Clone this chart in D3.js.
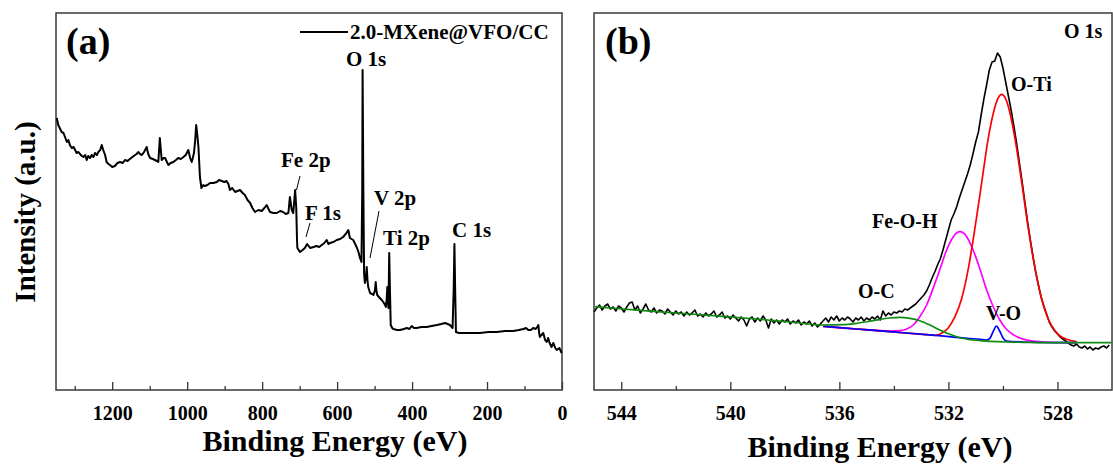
<!DOCTYPE html>
<html><head><meta charset="utf-8">
<script src="https://cdn.jsdelivr.net/npm/d3@7"></script>
<style>
body{margin:0;background:#fff}
text{font-family:"Liberation Serif","Times New Roman",serif;font-weight:bold;fill:#000}
</style>
</head><body>
<svg id="chart" width="1113" height="466"></svg>
<script>
// ---------- DATA ----------
// (a) XPS survey spectrum: [binding energy (eV), intensity (a.u.)]
const survey = [[1348,272],[1344,265],[1340,262],[1335,258],[1330,257],[1326,253],[1321,248],[1317,250],[1313,245],[1308,242],[1303,243],[1299,240],[1295,237],[1290,238],[1286,236],[1281,234],[1277,233],[1272,235],[1268,230],[1264,234],[1259,232],[1255,235],[1250,233],[1246,237],[1241,235],[1237,238],[1232,240],[1228,245],[1224,240],[1219,235],[1215,228],[1210,226],[1206,225],[1200,223],[1193,224],[1186,227],[1179,228],[1172,227],[1166,230],[1159,229],[1153,231],[1146,233],[1139,235],[1135,236],[1130,238],[1126,236],[1121,235],[1115,238],[1108,243],[1104,236],[1099,232],[1092,231],[1086,230],[1081,229],[1077,228],[1073,252],[1068,230],[1063,232],[1059,232],[1054,228],[1050,225],[1044,227],[1037,228],[1030,230],[1024,232],[1017,231],[1010,233],[1004,235],[997,240],[992,232],[988,228],[985,232],[982,237],[979,248],[976,265],[973,255],[970,243],[966,213],[962,202],[957,205],[953,204],[946,205],[939,207],[930,207],[921,208],[915,210],[908,209],[901,208],[895,209],[890,206],[886,200],[880,202],[872,198],[866,199],[859,200],[852,197],[846,195],[839,190],[832,187],[826,182],[819,178],[810,180],[801,179],[794,182],[788,185],[783,181],[779,178],[770,177],[761,177],[752,179],[744,178],[737,176],[730,177],[726,193],[721,180],[717,177],[712,200],[709,182],[707,150],[706,142],[699,138],[692,140],[686,142],[680,146],[672,142],[663,143],[655,144],[648,143],[641,145],[634,147],[628,150],[623,146],[619,147],[610,148],[601,150],[592,151],[584,153],[577,156],[570,160],[566,152],[557,150],[548,143],[543,138],[539,132],[535,128],[533,200],[532,320],[530,200],[528,117],[526,107],[523,112],[521,123],[519,110],[517,103],[512,97],[507,96],[503,95],[499,100],[497,108],[495,99],[493,95],[486,92],[481,90],[477,88],[472,85],[470,83],[468,90],[466,103],[465,90],[463,82],[461,137],[459,100],[457,65],[453,62],[450,61],[440,60],[432,60],[422,61],[414,62],[407,61],[401,64],[395,62],[388,62],[375,63],[361,63],[348,64],[334,65],[322,66],[312,67],[305,66],[299,65],[292,62],[289,100],[287,146],[285,100],[283,58],[275,57],[265,57],[254,57],[236,57],[219,57],[196,58],[174,58],[152,59],[130,59],[115,60],[103,61],[96,62],[90,60],[83,60],[77,62],[70,61],[66,63],[63,65],[61,57],[59,53],[55,55],[50,57],[45,50],[41,48],[37,52],[33,47],[28,43],[23,47],[18,42],[14,40],[7,42],[1,37]];
const surveyTicks = [1200, 1000, 800, 600, 400, 200, 0];
const surveyMinorTicks = [1300, 1100, 900, 700, 500, 300, 100];
const surveyPeaks = [
  {label: "O 1s", x: 346, y: 66},
  {label: "Fe 2p", x: 281, y: 167},
  {label: "F 1s", x: 305, y: 220},
  {label: "V 2p", x: 374, y: 205},
  {label: "Ti 2p", x: 383, y: 245},
  {label: "C 1s", x: 452, y: 237}
];
const legendLabel = "2.0-MXene@VFO/CC";

// (b) O 1s high-resolution: raw spectrum from 545.0 eV downward in 0.1 eV steps
const o1sStart = 545.0, o1sStep = 0.1;
const o1sRaw = [
  78,82,85,80,84,86,81,83,79,84,
  82,78,83,87,88,80,84,77,81,86,
  80,78,82,77,80,79,76,81,78,75,
  79,76,78,74,78,75,77,80,74,76,
  73,77,74,76,79,73,75,78,72,74,
  71,75,72,69,73,70,64,71,73,68,
  72,69,74,70,62,71,67,70,66,70,
  68,71,66,69,67,70,65,68,66,69,
  64,67,63,66,69,72,68,73,70,74,
  69,72,70,73,71,68,72,70,73,69,
  72,70,73,71,74,70,79,74,77,75,
  78,77,79,78,81,80,82,84,86,89,
  92,95,99,105,112,118,125,131,140,150,
  160,170,176,183,192,200,208,216,225,236,
  248,258,275,291,305,320,328,329,337,333,
  322,308,294,280,264,247,228,209,189,169,
  151,134,118,105,93,84,76,68,63,59,
  56,53,51,49,47,45,44,46,43,42,
  44,41,43,40,42,41,43,44,42,45
];
// fitted components (background included): [eV, intensity]
const fitOC = [[544.96,83.3],[543.93,81],[542.70,78.3],[541.48,76],[540.26,73.7],[539.04,71],[537.81,68],[536.59,65],[535.86,65.3],[535.37,66.7],[534.76,69.3],[534.15,72],[533.78,72.7],[533.41,71.7],[533.05,69.3],[532.68,65],[532.32,60],[531.95,55.7],[531.58,52.3],[531.09,50],[530.48,48.7],[529.87,48],[529.26,47.7],[528.04,47.3],[526.02,47.3]];
const fitVO = [[536.59,63.7],[535.37,61],[534.15,58.3],[532.93,55.7],[531.71,52.7],[530.85,50.7],[530.61,50],[530.48,51.7],[530.36,58.3],[530.24,64],[530.12,59],[529.99,51.7],[529.87,49],[529.26,48],[528.04,47.3],[527.3,47.3]];
const fitFeOH = [[536.59,63.7],[535.37,61],[534.15,59],[533.78,59.3],[533.53,61],[533.29,65],[533.05,73.3],[532.80,85],[532.56,101.7],[532.31,120.7],[532.07,139.7],[531.82,153.3],[531.58,158.3],[531.33,153.3],[531.09,139.7],[530.84,120.7],[530.60,100.3],[530.35,83],[530.11,69.7],[529.87,60.7],[529.62,55.3],[529.38,52],[529.01,49.3],[528.52,48],[527.3,47.3]];
const fitOTi = [[536.59,63.7],[535.37,61],[534.15,58.3],[532.93,55.7],[532.49,54.7],[532.25,56.7],[532.0,62.3],[531.76,73.3],[531.51,91.7],[531.27,121.3],[531.03,161.3],[530.78,207.3],[530.54,251.7],[530.29,283.3],[530.17,292.3],[530.05,295.7],[529.92,292.3],[529.80,283.3],[529.56,251.7],[529.31,207.3],[529.07,161.3],[528.82,121.3],[528.58,90.7],[528.34,71],[528.09,59.3],[527.85,53],[527.60,50.3],[527.3,48.3]];
const o1sTicks = [544, 540, 536, 532, 528];
const o1sMinorTicks = [542, 538, 534, 530];
const o1sLabels = [
  {label: "O 1s", x: 1064, y: 38},
  {label: "O-Ti", x: 1011, y: 91},
  {label: "Fe-O-H", x: 872, y: 228},
  {label: "O-C", x: 858, y: 298},
  {label: "V-O", x: 986, y: 320}
];

// ---------- DRAWING ----------
const svg = d3.select("#chart");
const plotTop = 13, plotBottom = 390;

function panel(xDomain, xRange, ticks, minor, tag, tagX, titleX, titleY) {
  const x = d3.scaleLinear().domain(xDomain).range(xRange);
  const y = d3.scaleLinear().domain([0, 377]).range([plotBottom, plotTop]);
  const g = svg.append("g");
  g.append("g").attr("transform", `translate(0,${plotBottom})`)
    .call(d3.axisBottom(x).tickValues(minor).tickSize(-4).tickFormat(""))
    .call(a => a.select(".domain").remove())
    .call(a => a.selectAll("line").attr("stroke", "#333").attr("stroke-width", 1.3));
  g.append("g").attr("transform", `translate(0,${plotBottom})`)
    .call(d3.axisBottom(x).tickValues(ticks).tickSize(-8).tickPadding(16).tickFormat(d3.format("d")))
    .call(a => a.select(".domain").remove())
    .call(a => a.selectAll("line").attr("stroke", "#333").attr("stroke-width", 1.3))
    .call(a => a.selectAll("text").attr("font-size", 20).attr("font-family", null).attr("fill", "#000"));
  g.append("rect").attr("x", xRange[0]).attr("y", plotTop)
    .attr("width", xRange[1] - xRange[0]).attr("height", plotBottom - plotTop)
    .attr("fill", "none").attr("stroke", "#3a3a3a").attr("stroke-width", 1.5);
  g.append("text").attr("x", tagX).attr("y", 54).attr("font-size", 38).text(tag);
  g.append("text").attr("x", titleX).attr("y", titleY).attr("text-anchor", "middle")
    .attr("font-size", 30).text("Binding Energy (eV)");
  return {x, y, g};
}

// ----- panel (a)
const A = panel([1350, 0], [56, 562], surveyTicks, surveyMinorTicks, "(a)", 66, 335, 451);
A.g.append("path").datum(survey)
  .attr("fill", "none").attr("stroke", "#000").attr("stroke-width", 2).attr("stroke-linejoin", "round")
  .attr("d", d3.line().x(d => A.x(d[0])).y(d => A.y(d[1])));
svg.append("text").attr("transform", "translate(35,212) rotate(-90)")
  .attr("text-anchor", "middle").attr("font-size", 29).text("Intensity (a.u.)");
svg.append("line").attr("x1", 300).attr("x2", 348).attr("y1", 32).attr("y2", 32)
  .attr("stroke", "#000").attr("stroke-width", 2);
svg.append("text").attr("x", 350).attr("y", 39).attr("font-size", 21).text(legendLabel);
A.g.selectAll("text.pk").data(surveyPeaks).enter().append("text").attr("class", "pk")
  .attr("x", d => d.x).attr("y", d => d.y).attr("font-size", 21).text(d => d.label);
const leaders = [[[300,176],[296.5,190]], [[310,223],[306,237]], [[379,211],[370,258]]];
leaders.forEach(l => A.g.append("line").attr("x1", l[0][0]).attr("y1", l[0][1])
  .attr("x2", l[1][0]).attr("y2", l[1][1]).attr("stroke", "#000").attr("stroke-width", 1));

// ----- panel (b)
const B = panel([545, 526], [594, 1112], o1sTicks, o1sMinorTicks, "(b)", 605, 880, 457);
const rawPts = o1sRaw.map((v, i) => [o1sStart - i * o1sStep, v]);
const lineB = d3.line().x(d => B.x(d[0])).y(d => B.y(d[1]));
const lineSmooth = d3.line().x(d => B.x(d[0])).y(d => B.y(d[1])).curve(d3.curveMonotoneX);
B.g.append("path").datum(rawPts).attr("fill", "none").attr("stroke", "#000")
  .attr("stroke-width", 1.6).attr("stroke-linejoin", "round").attr("d", lineB);
[[fitFeOH, "#ff00ff"], [fitOTi, "#ff0000"], [fitVO, "#0000ff"], [fitOC, "#108a10"]].forEach(([d, c]) => {
  B.g.append("path").datum(d).attr("fill", "none").attr("stroke", c)
    .attr("stroke-width", 1.7).attr("d", lineSmooth);
});
B.g.selectAll("text.pk").data(o1sLabels).enter().append("text").attr("class", "pk")
  .attr("x", d => d.x).attr("y", d => d.y).attr("font-size", 20).text(d => d.label);
</script>
</body></html>
